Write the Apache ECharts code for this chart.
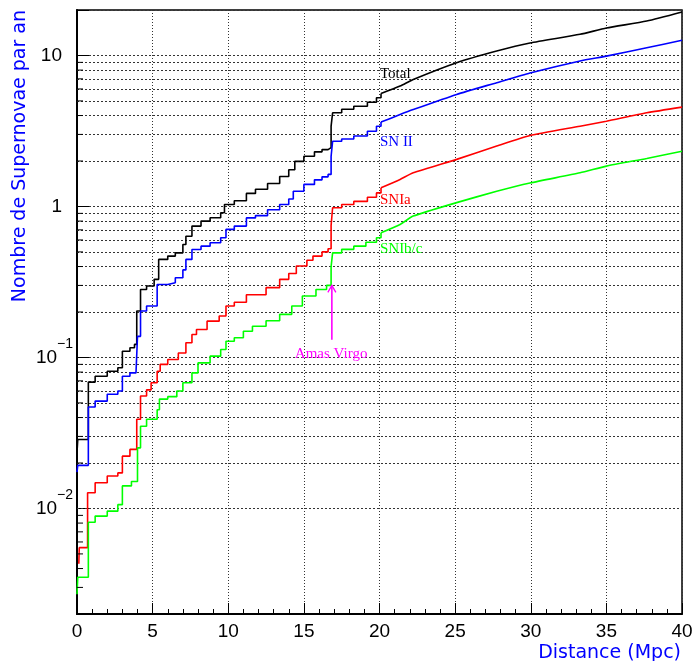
<!DOCTYPE html>
<html><head><meta charset="utf-8">
<script src="https://cdn.jsdelivr.net/npm/echarts@6/dist/echarts.min.js"></script>
<style>html,body{margin:0;padding:0;background:#fff}#c{width:696px;height:661px}</style>
</head><body><div id="c"></div>
<script>
// ---- Data ----
// Near range (0-20 Mpc): staircase, x where the cumulative rate changes and the new value
const totalStepX = [0, 0.05, 0.75, 1.2, 2.0, 2.7, 3.0, 3.5, 3.8, 3.95, 4.2, 4.6, 5.1, 5.4, 6.0, 6.5, 7.0, 7.2, 7.6, 8.2, 8.8, 9.5, 9.75, 10.4, 11.2, 11.8, 12.6, 13.4, 14.0, 14.4, 15.0, 15.7, 16.2, 16.6, 16.8, 16.9, 17.5, 18.3, 19.2, 19.8, 20.1];
const totalStepY = [0.0234, 0.0286, 0.0687, 0.075, 0.081, 0.0855, 0.11, 0.116, 0.122, 0.203, 0.282, 0.297, 0.329, 0.446, 0.469, 0.493, 0.56, 0.635, 0.741, 0.8, 0.841, 0.908, 1.03, 1.09, 1.22, 1.3, 1.42, 1.58, 1.75, 1.99, 2.15, 2.3, 2.38, 2.45, 3.4, 4.17, 4.4, 4.61, 4.9, 5.25, 5.6];

const snIIStepX = [0, 0.05, 0.75, 1.2, 2.0, 2.7, 3.0, 3.5, 3.9, 4.0, 4.2, 4.6, 5.3, 6.0, 6.5, 7.0, 7.2, 7.6, 8.2, 8.8, 9.5, 9.85, 10.4, 11.2, 11.8, 12.6, 13.4, 14.0, 14.3, 15.0, 15.7, 16.2, 16.6, 16.8, 16.9, 17.5, 18.3, 19.2, 19.8, 20.1];
const snIIStepY = [0.0174, 0.0193, 0.047, 0.0514, 0.057, 0.06, 0.075, 0.079, 0.081, 0.138, 0.203, 0.219, 0.304, 0.312, 0.337, 0.38, 0.446, 0.519, 0.546, 0.575, 0.62, 0.705, 0.741, 0.84, 0.87, 0.95, 1.03, 1.12, 1.26, 1.40, 1.50, 1.57, 1.63, 2.15, 2.7, 2.8, 2.93, 3.15, 3.4, 3.62];

const snIaStepX = [0.12, 0.15, 0.7, 1.2, 2.0, 2.7, 3.0, 3.5, 3.95, 4.2, 4.6, 4.9, 5.3, 5.5, 6.0, 6.7, 7.2, 7.6, 7.9, 8.6, 9.4, 9.85, 10.4, 11.2, 12.5, 13.4, 14.0, 14.5, 15.2, 15.6, 16.2, 16.6, 16.8, 16.9, 17.5, 18.3, 19.2, 19.8, 20.1];
const snIaStepY = [0.0043, 0.0055, 0.0127, 0.0148, 0.0164, 0.0172, 0.0222, 0.0246, 0.039, 0.0555, 0.061, 0.068, 0.081, 0.09, 0.097, 0.107, 0.125, 0.142, 0.153, 0.174, 0.188, 0.219, 0.232, 0.26, 0.29, 0.329, 0.36, 0.403, 0.44, 0.469, 0.50, 0.525, 0.75, 0.98, 1.03, 1.08, 1.15, 1.23, 1.33];

const snIbcStepX = [0, 0.05, 0.75, 1.2, 2.0, 2.7, 3.0, 3.6, 4.0, 4.2, 4.6, 5.3, 5.45, 6.0, 6.6, 7.0, 7.6, 8.0, 8.8, 9.5, 9.85, 10.4, 11.0, 11.6, 12.5, 13.4, 14.2, 14.9, 15.8, 16.5, 16.8, 16.9, 17.5, 18.3, 19.1, 19.8, 20.1];
const snIbcStepY = [0.0027, 0.0035, 0.0081, 0.0089, 0.0096, 0.0106, 0.0141, 0.0151, 0.0252, 0.035, 0.039, 0.045, 0.053, 0.055, 0.06, 0.068, 0.079, 0.092, 0.102, 0.113, 0.128, 0.135, 0.149, 0.161, 0.175, 0.193, 0.219, 0.255, 0.282, 0.30, 0.40, 0.493, 0.52, 0.546, 0.58, 0.62, 0.67];

// Far range (20-40 Mpc): nearly smooth growth
const farX       = [20.1, 21.36, 22.23, 25.1, 27.75, 29.95, 33.26, 35, 37.67, 40];
const totalFarY  = [5.6, 6.27, 6.93, 8.95, 10.7, 12.1, 13.8, 15.2, 16.9, 19.4];
const snIIFarY   = [3.62, 4.06, 4.38, 5.52, 6.6, 7.65, 9.2, 9.9, 11.25, 12.6];
const snIaFarY   = [1.33, 1.51, 1.67, 2.05, 2.51, 2.95, 3.4, 3.67, 4.17, 4.55];
const snIbcFarY  = [0.67, 0.76, 0.863, 1.06, 1.26, 1.43, 1.67, 1.85, 2.08, 2.32];

// Minor log grid values (2..9 x each decade)
const minorGridValues = [0.003,0.004,0.005,0.006,0.007,0.008,0.009,
  0.02,0.03,0.04,0.05,0.06,0.07,0.08,0.09,
  0.2,0.3,0.4,0.5,0.6,0.7,0.8,0.9,
  2,3,4,5,6,7,8,9];

// Annotations (text and data-coordinate anchors)
const annoText = ['Total', 'SN II', 'SNIa', 'SNIb/c', 'Amas Virgo'];
const annoX    = [20.03, 20.03, 20.03, 20.03, 16.8];
const annoY    = [7.48, 2.66, 1.10, 0.525, 0.106];
// Virgo arrow: x, from value, to value
const virgoArrow = [16.85, 0.131, 0.30];

// ---- Styles ----
const C_TOTAL = '#000000', C_II = '#0000ff', C_IA = '#ff0000', C_IBC = '#00ff00', C_MAG = '#ff00ff';
const annoColors = [C_TOTAL, C_II, C_IA, C_IBC, C_MAG];
const annoAlign = ['left','left','left','left','center'];
const zip = (xs, ys) => xs.map((x, i) => [x, ys[i]]);

function curve(name, xs, ys, color, stepped) {
  const s = {
    name, type: 'line', step: stepped ? 'end' : false, data: zip(xs, ys),
    showSymbol: false, symbol: 'none', silent: true, z: 5,
    lineStyle: { color, width: 1.6 }, itemStyle: { color }
  };
  if (!stepped) { s.smooth = 0.2; }
  return s;
}

const chart = echarts.init(document.getElementById('c'), null, { renderer: 'canvas' });
const labelFont = 'Liberation Sans';
const option = {
  animation: false,
  backgroundColor: '#fff',
  grid: { left: 77, right: 14, top: 10, bottom: 47, show: true, borderColor: '#000', borderWidth: 1.5,
          containLabel: false, outerBoundsMode: 'none' },
  xAxis: {
    type: 'value', min: 0, max: 40, interval: 5,
    axisLine: { show: true, onZero: false, lineStyle: { color: '#000', width: 2 } },
    axisTick: { show: true, inside: true, length: 11, lineStyle: { color: '#000', width: 1 } },
    minorTick: { show: true, splitNumber: 5, length: 5, lineStyle: { color: '#000', width: 1 } },
    axisLabel: { fontFamily: labelFont, fontSize: 19, color: '#000', margin: 8, showMinLabel: true, showMaxLabel: true, hideOverlap: false },
    splitLine: { show: true, lineStyle: { color: '#333', width: 1, type: [1, 2] } }
  },
  yAxis: {
    type: 'log', logBase: 10, min: 0.002, max: 20,
    axisLine: { show: true, onZero: false, lineStyle: { color: '#000', width: 2 } },
    axisTick: { show: true, inside: true, length: 12, lineStyle: { color: '#000', width: 1 } },
    axisLabel: {
      margin: 4, hideOverlap: false, showMinLabel: true, showMaxLabel: true,
      formatter: function (v) {
        const l = Math.log10(v), e = Math.round(l);
        if (Math.abs(l - e) > 1e-6) return '';
        if (e === 1) return '{p|10}';
        if (e === 0) return '{p|1}';
        return '{b|10}{s|\u2212' + (-e) + '}';
      },
      rich: {
        p: { fontFamily: labelFont, fontSize: 19, color: '#000', padding: [0, 11, 0, 0] },
        b: { fontFamily: labelFont, fontSize: 19, color: '#000' },
        s: { fontFamily: labelFont, fontSize: 14, color: '#000', padding: [0, 0, 26, 0] }
      }
    },
    splitLine: { show: true, lineStyle: { color: '#333', width: 1, type: [2, 2] } }
  },
  graphic: [
    { type: 'text', x: 20, y: 10, rotation: Math.PI / 2, silent: true,
      style: { text: 'Nombre de Supernovae par an', fill: '#0000ff', font: '19px "DejaVu Sans"', align: 'right', verticalAlign: 'middle' } },
    { type: 'text', x: 681, y: 653, silent: true,
      style: { text: 'Distance (Mpc)', fill: '#0000ff', font: '19px "DejaVu Sans"', align: 'right', verticalAlign: 'middle' } }
  ],
  series: [
    { type: 'line', data: [], silent: true, z: 1,
      markLine: { silent: true, animation: false, symbol: ['none', 'none'], label: { show: false },
        lineStyle: { color: '#333', width: 1, type: [2, 2] },
        data: minorGridValues.map(v => ({ yAxis: v })) } },
    { type: 'custom', silent: true, z: 6, data: minorGridValues.map(v => [0, v]),
      renderItem: function (params, api) {
        const p = api.coord([api.value(0), api.value(1)]);
        return { type: 'line', shape: { x1: p[0], y1: p[1], x2: p[0] + 6, y2: p[1] }, style: { stroke: '#000', lineWidth: 1 } };
      } },
    curve('Total', totalStepX, totalStepY, C_TOTAL, true),
    curve('Total', farX, totalFarY, C_TOTAL, false),
    curve('SN II', snIIStepX, snIIStepY, C_II, true),
    curve('SN II', farX, snIIFarY, C_II, false),
    curve('SNIa', snIaStepX, snIaStepY, C_IA, true),
    curve('SNIa', farX, snIaFarY, C_IA, false),
    curve('SNIb/c', snIbcStepX, snIbcStepY, C_IBC, true),
    curve('SNIb/c', farX, snIbcFarY, C_IBC, false),
    { type: 'custom', silent: true, z: 7, data: [virgoArrow],
      renderItem: function (params, api) {
        const p0 = api.coord([api.value(0), api.value(1)]);
        const p1 = api.coord([api.value(0), api.value(2)]);
        return { type: 'group', children: [
          { type: 'line', shape: { x1: p0[0], y1: p0[1], x2: p1[0], y2: p1[1] }, style: { stroke: C_MAG, lineWidth: 1.6 } },
          { type: 'polyline', shape: { points: [[p1[0] - 4, p1[1] + 7], [p1[0], p1[1]], [p1[0] + 4, p1[1] + 7]] }, style: { stroke: C_MAG, lineWidth: 1.3, fill: null } }
        ] };
      } },
    { type: 'custom', silent: true, z: 8, data: annoX.map((x, i) => [x, annoY[i], i]),
      renderItem: function (params, api) {
        const i = api.value(2);
        const p = api.coord([api.value(0), api.value(1)]);
        return { type: 'text', x: p[0], y: p[1],
          style: { text: annoText[i], fill: annoColors[i], font: '15px "Liberation Serif"', align: annoAlign[i], verticalAlign: 'middle' } };
      } }
  ]
};
chart.setOption(option);
</script>
</body></html>
